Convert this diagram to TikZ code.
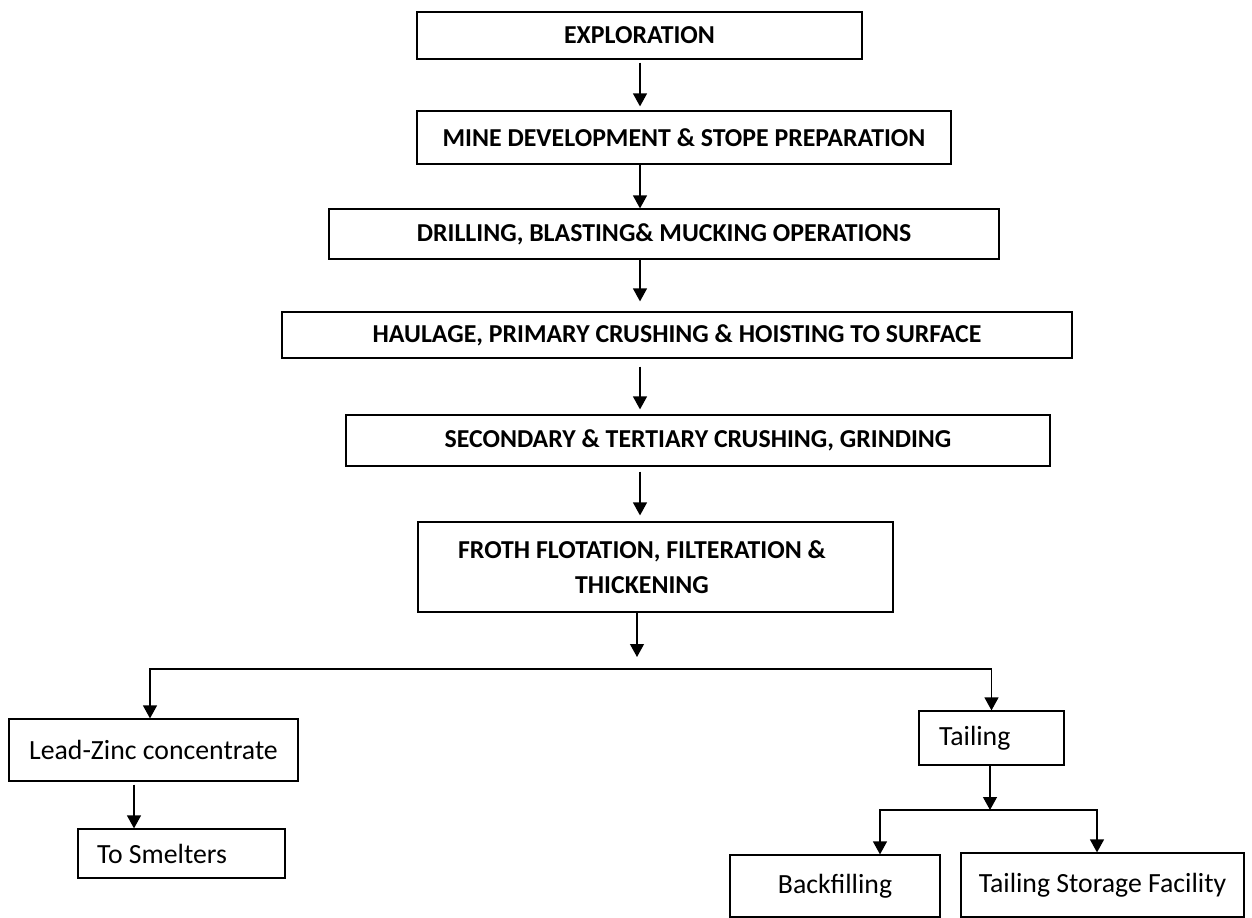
\documentclass[tikz,border=0pt]{standalone}
\usepackage{fontspec}
\setmainfont{Carlito}
\usetikzlibrary{arrows.meta}

\tikzset{
  stage/.style={draw, line width=0.7pt, inner sep=0pt, font=\bfseries\fontsize{14.7}{20.2}\selectfont},
  item/.style={draw, line width=0.7pt, inner sep=0pt, font=\fontsize{15.8}{19}\selectfont},
  flow/.style={line width=0.7pt, -{Triangle[length=0.26cm,width=0.28cm]}},
  fork/.style={line width=0.7pt, {Triangle[length=0.26cm,width=0.28cm]}-{Triangle[length=0.26cm,width=0.28cm]}},
}

\begin{document}
\begin{tikzpicture}[x=0.02cm, y=-0.02cm]

                \useasboundingbox (0,0) rectangle (1252,918);

                % Mine stages
                \node[stage, minimum width=8.9cm, minimum height=0.94cm] (explo) at (639.5,35.5) {EXPLORATION};
                \node[stage, minimum width=10.68cm, minimum height=1.06cm] (minedev) at (684,137.5) {MINE DEVELOPMENT \& STOPE PREPARATION};
                \node[stage, minimum width=13.4cm, minimum height=1.0cm] (drill) at (664,234) {DRILLING, BLASTING\& MUCKING OPERATIONS};
                \node[stage, minimum width=15.8cm, minimum height=0.92cm] (haul) at (677,335) {HAULAGE, PRIMARY CRUSHING \& HOISTING TO SURFACE};
                \node[stage, minimum width=14.08cm, minimum height=1.02cm] (second) at (698,440.5) {SECONDARY \& TERTIARY CRUSHING, GRINDING};
                \node[stage, minimum width=9.5cm, minimum height=1.8cm] (froth) at (655.5,567) {};
                \node[font=\bfseries\fontsize{14.7}{20.2}\selectfont, align=center, inner sep=0pt] (frothtext) at ([xshift=-0.27cm]froth.center) {FROTH FLOTATION, FILTERATION \&\\THICKENING};

                % Products
                \node[item, minimum width=5.78cm, minimum height=1.24cm] (leadzinc) at (153.5,750) {Lead-Zinc concentrate};
                \node[item, minimum height=0.98cm, inner xsep=0.38cm, text width=3.38cm, align=flush left] (smelters) at (181.5,853.5) {To Smelters};
                \node[item, minimum height=1.08cm, inner xsep=0.4cm, text width=2.1cm, align=flush left] (tailing) at (991.5,738) {Tailing};
                \node[item, minimum width=4.2cm, minimum height=1.24cm] (backfill) at (835,886) {Backfilling};
                \node[item, minimum width=5.66cm, minimum height=1.28cm] (tsf) at (1102.5,885) {Tailing Storage Facility};

                % Main flow
                \coordinate (spine) at (640,0);
                \draw[flow, shorten <=0.06cm, shorten >=0.08cm] (explo.south -| spine) -- (minedev.north -| spine);
                \draw[flow] (minedev.south -| spine) -- (drill.north -| spine);
                \draw[flow, shorten >=0.2cm] (drill.south -| spine) -- (haul.north -| spine);
                \draw[flow, shorten <=0.16cm, shorten >=0.1cm] (haul.south -| spine) -- (second.north -| spine);
                \draw[flow, shorten <=0.1cm, shorten >=0.12cm] (second.south -| spine) -- (froth.north -| spine);

                % Split after flotation
                \coordinate (split) at (637,657);
                \coordinate (branch) at (637,669);
                \coordinate (lzdrop) at (150,669);
                \draw[flow] (froth.south -| split) -- (split);
                \draw[fork] (leadzinc.north -| lzdrop) |- (branch) -| (tailing.north);
                \draw[flow, shorten <=0.06cm] ([xshift=-0.39cm]leadzinc.south) -- ([xshift=-0.39cm]leadzinc.south |- smelters.north);

                % Tailing use
                \coordinate (tsplit) at (990,810);
                \draw[flow] (tailing.south -| tsplit) -- (tsplit);
                \draw[fork] ([xshift=0.9cm]backfill.north) |- (tsplit) -| ([xshift=-0.11cm]tsf.north);

\end{tikzpicture}
\end{document}
